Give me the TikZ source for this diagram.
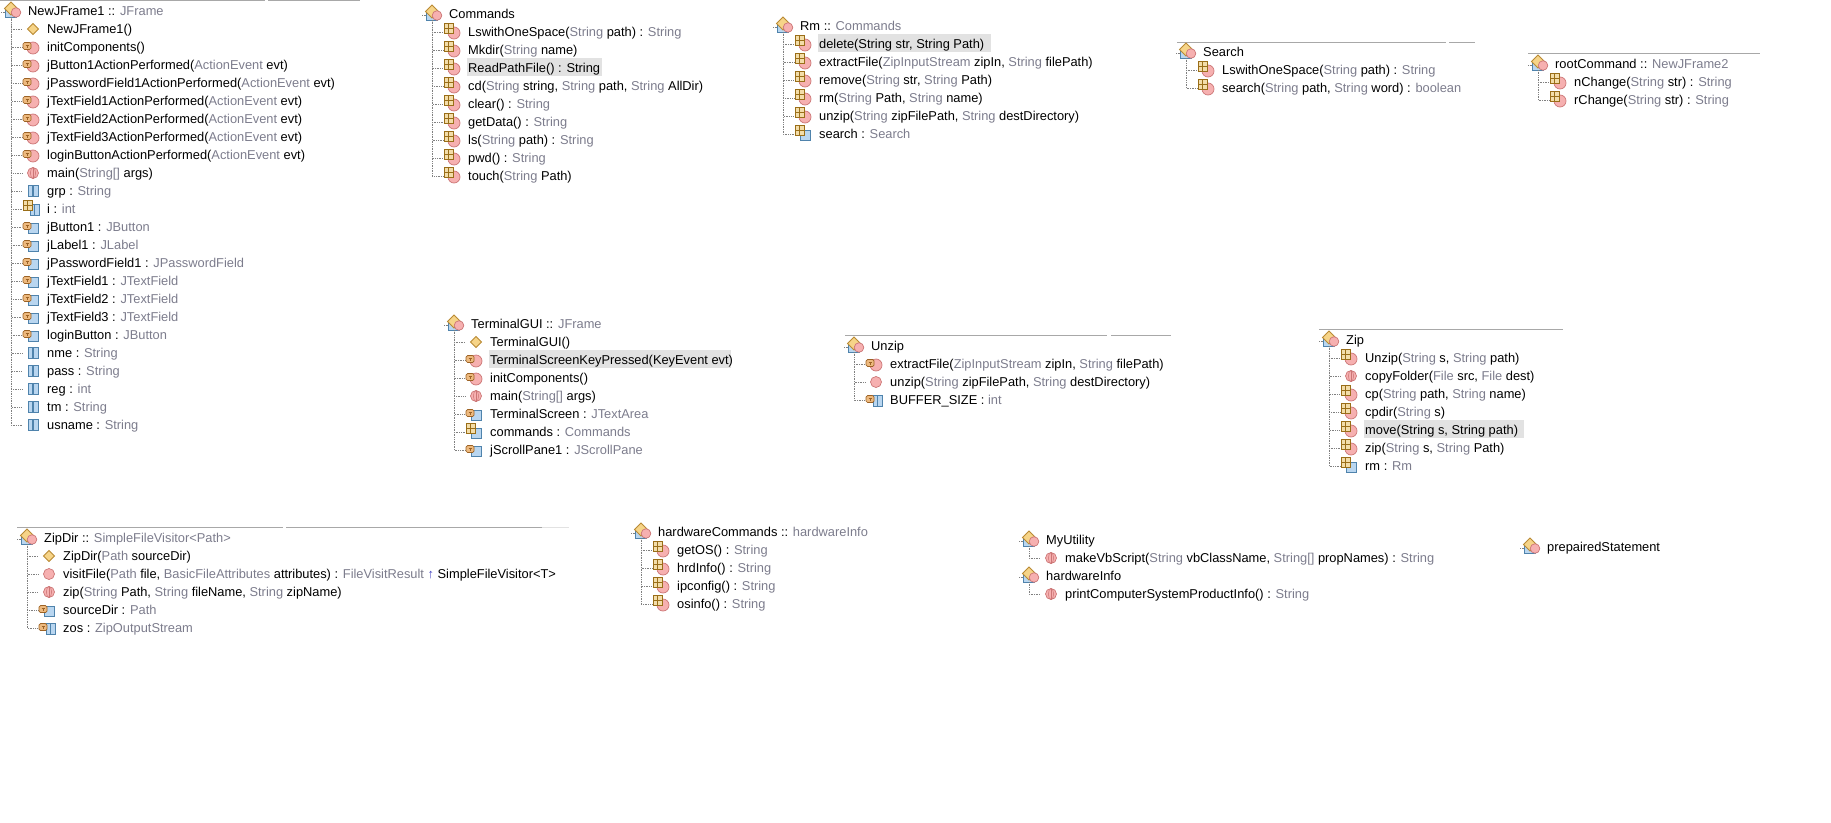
\documentclass[tikz,border=0pt]{standalone}
\usepackage{fontspec}
\setmainfont{Liberation Sans}
\usepackage{xcolor}
\definecolor{typegray}{HTML}{7C7C8C}
\definecolor{markgray}{HTML}{E2E2E2}
\definecolor{rulegray}{HTML}{A8A8A8}
\definecolor{ballred}{HTML}{F6B0B0}
\definecolor{balledge}{HTML}{CC7676}
\definecolor{gridtan}{HTML}{F3DDA9}
\definecolor{gridedge}{HTML}{9A6E18}
\definecolor{lockorange}{HTML}{EDB97E}
\definecolor{lockedge}{HTML}{9C6224}
\definecolor{shacklegray}{HTML}{8C8478}
\definecolor{fieldblue}{HTML}{B9D6F0}
\definecolor{fieldedge}{HTML}{4F83AC}
\definecolor{diamondyellow}{HTML}{F6D488}
\definecolor{diamondedge}{HTML}{B98A34}
\newcommand{\ty}[1]{\textcolor{typegray}{#1}}
% small parts of the icons, relative to the start of the row text
\newcommand{\partball}{\draw[ballstyle] (-14,1) circle (6);}
\newcommand{\partgrid}{\draw[gridstyle] (-24,-9) rectangle (-14.5,1);
  \draw[gridedge,line width=.7pt] (-24,-4) -- (-14.5,-4) (-19.25,-9) -- (-19.25,1);}
\newcommand{\partlock}{\draw[shacklegray,line width=1pt] (-22.3,-4) arc (180:0:2.3 and 4);
  \draw[lockstyle] (-24,-4.5) rectangle (-16,2.5);
  \draw[lockedge,line width=.8pt] (-21.5,-2) -- (-18.5,-2) (-20,-2) -- (-20,.8);}
\newcommand{\partsquare}{\draw[fieldstyle] (-18.5,-4) rectangle (-8.5,6);}
\newcommand{\partbook}{\draw[fieldstyle] (-17,-5) rectangle (-13,6) (-12.5,-5) rectangle (-8,6);}
\tikzset{
  headlabel/.style={anchor=base west,inner sep=0pt,font=\fontsize{12.85}{16}\selectfont},
  rowlabel/.style={anchor=base west,inner sep=0pt,font=\fontsize{12.85}{16}\selectfont},
  treeline/.style={draw=gray,densely dotted,line width=.7pt},
  ruleline/.style={draw=rulegray,line width=1pt},
  ballstyle/.style={fill=ballred,draw=balledge,line width=.7pt},
  gridstyle/.style={fill=gridtan,draw=gridedge,line width=.9pt},
  lockstyle/.style={fill=lockorange,draw=lockedge,line width=.7pt,rounded corners=1.5pt},
  fieldstyle/.style={fill=fieldblue,draw=fieldedge,line width=.8pt},
  pics/classicon/.style={code={
    \draw[fieldstyle] (-23,-2) rectangle (-12,6.5);
    \draw[fill=diamondyellow,draw=diamondedge,line width=.8pt] (-17,-9) -- (-10.5,-2.5) -- (-17,4) -- (-23.5,-2.5) -- cycle;
    \draw[ballstyle] (-12,1.5) circle (4.8);}},
  pics/ctor/.style={code={\draw[fill=diamondyellow,draw=diamondedge,line width=.8pt] (-14,-5.5) -- (-8.5,0) -- (-14,5.5) -- (-19.5,0) -- cycle;}},
  pics/meth/.style={code={\draw[ballstyle] (-14,0) circle (5.5);}},
  pics/statmeth/.style={code={\draw[ballstyle] (-14,0) circle (5.5);
    \draw[balledge,line width=.8pt] (-14,-5.5) -- (-14,5.5);
    \draw[balledge,line width=.5pt] (-14,0) ellipse (2.6 and 5.5);}},
  pics/locmeth/.style={code={\partball\partlock}},
  pics/pkgmeth/.style={code={\partball\partgrid}},
  pics/statfld/.style={code={\draw[fieldstyle] (-19,-5.5) rectangle (-14.2,5.5) (-13.2,-5.5) rectangle (-8.5,5.5);}},
  pics/locfld/.style={code={\partsquare\partlock}},
  pics/pkgfld/.style={code={\partsquare\partgrid}},
  pics/locstat/.style={code={\partbook\partlock}},
  pics/pkgstat/.style={code={\partbook\partgrid}},
}
% id, x of the header text, y of the header, header text
\newcommand{\classhead}[4]{
  \pic at (#2,#3) {classicon};
  \node[headlabel] (#1) at (#2,#3+4.5) {#4};
  \coordinate (#1top) at (#2-17,#3+6);
  \coordinate (#1stub) at (#2-27,#3+1);
  \coordinate (#1box) at (#2-23,#3+1);
  \draw[treeline] (#1stub) -- (#1box);
}
% the same, then the members
\newcommand{\classtree}[5]{
  \classhead{#1}{#2}{#3}{#4}
  \foreach \kind/\rowtxt [count=\n] in {#5} {
    \coordinate (#1-\n) at (#2-6,#3+18*\n);
    \draw[treeline] (#1top) |- (#1-\n);
    \pic at (#2+19,#3+18*\n) {\kind};
    \node[rowlabel] (#1-\n-txt) at (#2+19,#3+18*\n+4.5) {\rowtxt};
  }
}
\begin{document}
\begin{tikzpicture}[x=1pt,y=-1pt]
  \useasboundingbox (0,0) rectangle (1831,822);
  % header rules
  \foreach \xa/\xb/\yy in {0/265/.6, 268/360/.6, 1177/1446/42, 1449/1475/42, 1528/1760/53,
      845/1107/335, 1111/1171/335, 1319/1563/329, 17/283/527, 286/542/527} {
    \draw[ruleline] (\xa,\yy) -- (\xb,\yy);
  }
  \draw[ruleline,draw=markgray] (542,527) -- (569,527);
  % selected rows
  \foreach \xa/\xb/\yy in {467/602/58, 818/991/34, 489/731/350, 1364/1524/420} {
    \fill[markgray] (\xa,\yy) rectangle (\xb,\yy+18);
  }
  \classtree{NewJFrame}{28}{11}{NewJFrame1 :: \ty{JFrame}}{
    ctor/{NewJFrame1()},
    locmeth/{initComponents()},
    locmeth/{jButton1ActionPerformed(\ty{ActionEvent} evt)},
    locmeth/{jPasswordField1ActionPerformed(\ty{ActionEvent} evt)},
    locmeth/{jTextField1ActionPerformed(\ty{ActionEvent} evt)},
    locmeth/{jTextField2ActionPerformed(\ty{ActionEvent} evt)},
    locmeth/{jTextField3ActionPerformed(\ty{ActionEvent} evt)},
    locmeth/{loginButtonActionPerformed(\ty{ActionEvent} evt)},
    statmeth/{main(\ty{String[]} args)},
    statfld/{grp : \ty{String}},
    pkgstat/{i : \ty{int}},
    locfld/{jButton1 : \ty{JButton}},
    locfld/{jLabel1 : \ty{JLabel}},
    locfld/{jPasswordField1 : \ty{JPasswordField}},
    locfld/{jTextField1 : \ty{JTextField}},
    locfld/{jTextField2 : \ty{JTextField}},
    locfld/{jTextField3 : \ty{JTextField}},
    locfld/{loginButton : \ty{JButton}},
    statfld/{nme : \ty{String}},
    statfld/{pass : \ty{String}},
    statfld/{reg : \ty{int}},
    statfld/{tm : \ty{String}},
    statfld/{usname : \ty{String}}}
  \classtree{Commands}{449}{14}{Commands}{
    pkgmeth/{LswithOneSpace(\ty{String} path) : \ty{String}},
    pkgmeth/{Mkdir(\ty{String} name)},
    pkgmeth/{ReadPathFile() : String},
    pkgmeth/{cd(\ty{String} string, \ty{String} path, \ty{String} AllDir)},
    pkgmeth/{clear() : \ty{String}},
    pkgmeth/{getData() : \ty{String}},
    pkgmeth/{ls(\ty{String} path) : \ty{String}},
    pkgmeth/{pwd() : \ty{String}},
    pkgmeth/{touch(\ty{String} Path)}}
  \classtree{Rm}{800}{26}{Rm :: \ty{Commands}}{
    pkgmeth/{delete(String str, String Path)},
    pkgmeth/{extractFile(\ty{ZipInputStream} zipIn, \ty{String} filePath)},
    pkgmeth/{remove(\ty{String} str, \ty{String} Path)},
    pkgmeth/{rm(\ty{String} Path, \ty{String} name)},
    pkgmeth/{unzip(\ty{String} zipFilePath, \ty{String} destDirectory)},
    pkgfld/{search : \ty{Search}}}
  \classtree{Search}{1203}{52}{Search}{
    pkgmeth/{LswithOneSpace(\ty{String} path) : \ty{String}},
    pkgmeth/{search(\ty{String} path, \ty{String} word) : \ty{boolean}}}
  \classtree{rootCommand}{1555}{64}{rootCommand :: \ty{NewJFrame2}}{
    pkgmeth/{nChange(\ty{String} str) : \ty{String}},
    pkgmeth/{rChange(\ty{String} str) : \ty{String}}}
  \classtree{TerminalGUI}{471}{324}{TerminalGUI :: \ty{JFrame}}{
    ctor/{TerminalGUI()},
    locmeth/{TerminalScreenKeyPressed(KeyEvent evt)},
    locmeth/{initComponents()},
    statmeth/{main(\ty{String[]} args)},
    locfld/{TerminalScreen : \ty{JTextArea}},
    pkgfld/{commands : \ty{Commands}},
    locfld/{jScrollPane1 : \ty{JScrollPane}}}
  \classtree{Unzip}{871}{346}{Unzip}{
    locmeth/{extractFile(\ty{ZipInputStream} zipIn, \ty{String} filePath)},
    meth/{unzip(\ty{String} zipFilePath, \ty{String} destDirectory)},
    locstat/{BUFFER\_SIZE : \ty{int}}}
  \classtree{Zip}{1346}{340}{Zip}{
    pkgmeth/{Unzip(\ty{String} s, \ty{String} path)},
    statmeth/{copyFolder(\ty{File} src, \ty{File} dest)},
    pkgmeth/{cp(\ty{String} path, \ty{String} name)},
    pkgmeth/{cpdir(\ty{String} s)},
    pkgmeth/{move(String s, String path)},
    pkgmeth/{zip(\ty{String} s, \ty{String} Path)},
    pkgfld/{rm : \ty{Rm}}}
  \classtree{ZipDir}{44}{538}{ZipDir :: \ty{SimpleFileVisitor<Path>}}{
    ctor/{ZipDir(\ty{Path} sourceDir)},
    meth/{visitFile(\ty{Path} file, \ty{BasicFileAttributes} attributes) : \ty{FileVisitResult} \textcolor{blue!50!gray}{↑} SimpleFileVisitor<T>},
    statmeth/{zip(\ty{String} Path, \ty{String} fileName, \ty{String} zipName)},
    locfld/{sourceDir : \ty{Path}},
    locstat/{zos : \ty{ZipOutputStream}}}
  \classtree{hardwareCommands}{658}{532}{hardwareCommands :: \ty{hardwareInfo}}{
    pkgmeth/{getOS() : \ty{String}},
    pkgmeth/{hrdInfo() : \ty{String}},
    pkgmeth/{ipconfig() : \ty{String}},
    pkgmeth/{osinfo() : \ty{String}}}
  \classtree{MyUtility}{1046}{540}{MyUtility}{
    statmeth/{makeVbScript(\ty{String} vbClassName, \ty{String[]} propNames) : \ty{String}}}
  \classtree{hardwareInfo}{1046}{576}{hardwareInfo}{
    statmeth/{printComputerSystemProductInfo() : \ty{String}}}
  \classhead{prepairedStatement}{1547}{547}{prepairedStatement}
\end{tikzpicture}
\end{document}
